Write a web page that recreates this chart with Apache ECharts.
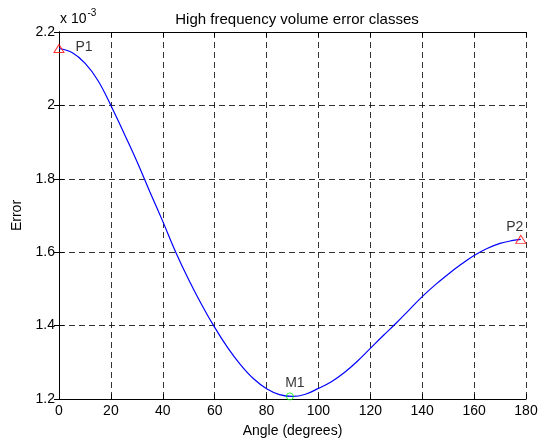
<!DOCTYPE html>
<html>
<head>
<meta charset="utf-8">
<script src="https://cdn.jsdelivr.net/npm/echarts@6/dist/echarts.min.js"></script>
<style>
html, body { margin: 0; padding: 0; background: #fff; }
#main { width: 544px; height: 443px; }
</style>
</head>
<body>
<div id="main"></div>
<script>
// values, error in units of 10^-3
var angles = [0, 5, 10, 15, 20, 25, 30, 35, 40, 45, 50, 55, 60, 65, 70, 75, 80, 85, 90,
    95, 100, 105, 110, 115, 120, 125, 130, 135, 140, 145, 150, 155, 160, 165, 170, 175, 178];
var errors = [2.155, 2.144, 2.115, 2.068, 2.0, 1.925, 1.848, 1.765, 1.684, 1.6, 1.525, 1.457, 1.395, 1.34,
    1.293, 1.255, 1.228, 1.212, 1.207, 1.213, 1.229, 1.247, 1.272, 1.303, 1.338, 1.373, 1.407, 1.443,
    1.479, 1.511, 1.54, 1.567, 1.591, 1.61, 1.624, 1.632, 1.635];
var peakNames = ['P1', 'P2'];
var peakAngles = [0, 178];
var peakErrors = [2.155, 1.635];
var minName = 'M1';
var minAngle = 89;
var minError = 1.207;
var xTicks = { min: 0, max: 180, step: 20 };
var yTicks = { min: 1.2, max: 2.2, step: 0.2 };

var chart = echarts.init(document.getElementById('main'));

var curve = [];
for (var i = 0; i < angles.length; i++) {
    curve.push([angles[i], errors[i]]);
}
// label offsets for P1 / P2
var peakOffsets = [[25, -1], [-6, -12]];
var peaks = [];
for (var j = 0; j < peakAngles.length; j++) {
    peaks.push({
        name: peakNames[j],
        value: [peakAngles[j], peakErrors[j]],
        label: { offset: peakOffsets[j] }
    });
}

var font = 'Liberation Sans, Arial, sans-serif';
var fs = 14;
var dashed = { show: true, lineStyle: { color: '#000', type: [6, 4], width: 1, opacity: 0.8 } };

function yLabel(v) {
    return String(+v.toFixed(1));
}

chart.setOption({
    animation: false,
    title: {
        text: 'High frequency volume error classes',
        left: 292,
        textAlign: 'center',
        top: 7,
        textStyle: { fontFamily: font, fontSize: 15, fontWeight: 'normal', color: '#000' }
    },
    graphic: [{
        type: 'text',
        left: 60,
        top: 8,
        style: {
            text: '{a|x 10}{b|-3}',
            rich: {
                a: { fontFamily: font, fontSize: fs, fill: '#000', verticalAlign: 'bottom' },
                b: { fontFamily: font, fontSize: 10, fill: '#000', padding: [0, 0, 8, 1] }
            }
        }
    }],
    grid: { left: 59, right: 18, top: 32, bottom: 43 },
    xAxis: [{
        type: 'value',
        min: xTicks.min, max: xTicks.max, interval: xTicks.step,
        name: 'Angle (degrees)',
        nameLocation: 'middle',
        nameGap: 25,
        nameTextStyle: { fontFamily: font, fontSize: fs, color: '#000' },
        axisLine: { lineStyle: { color: '#000', width: 1 } },
        axisTick: { inside: true, length: 5, lineStyle: { color: '#000' } },
        axisLabel: { fontFamily: font, fontSize: fs, color: '#000', margin: 5 },
        splitLine: dashed
    }, {
        type: 'value', position: 'top',
        min: xTicks.min, max: xTicks.max, interval: xTicks.step,
        axisLine: { show: true, lineStyle: { color: '#000', width: 1 } },
        axisTick: { inside: true, length: 5, lineStyle: { color: '#000' } },
        axisLabel: { show: false },
        splitLine: { show: false }
    }],
    yAxis: [{
        type: 'value',
        min: yTicks.min, max: yTicks.max, interval: yTicks.step,
        name: 'Error',
        nameLocation: 'middle',
        nameGap: 31,
        nameTextStyle: { fontFamily: font, fontSize: fs, color: '#000' },
        axisLine: { show: true, lineStyle: { color: '#000', width: 1 } },
        axisTick: { show: true, inside: true, length: 5, lineStyle: { color: '#000' } },
        axisLabel: { fontFamily: font, fontSize: fs, color: '#000', margin: 4, formatter: yLabel },
        splitLine: dashed
    }, {
        type: 'value', position: 'right',
        min: yTicks.min, max: yTicks.max, interval: yTicks.step,
        axisLine: { show: true, lineStyle: { color: '#000', width: 1 } },
        axisTick: { show: true, inside: true, length: 5, lineStyle: { color: '#000' } },
        axisLabel: { show: false },
        splitLine: { show: false }
    }],
    series: [{
        type: 'line',
        data: curve,
        smooth: 0.4,
        showSymbol: false,
        lineStyle: { color: '#0000ff', width: 1.2 },
        z: 3
    }, {
        type: 'scatter',
        data: peaks,
        symbol: 'triangle',
        symbolSize: [10, 8],
        itemStyle: { color: 'transparent', borderColor: '#ff0000', borderWidth: 1 },
        label: {
            show: true,
            formatter: '{b}',
            fontFamily: font, fontSize: fs, color: '#000',
            position: 'inside'
        },
        z: 4
    }, {
        type: 'scatter',
        data: [{ name: minName, value: [minAngle, minError] }],
        symbol: 'circle',
        symbolSize: 7,
        itemStyle: { color: 'transparent', borderColor: '#00ff00', borderWidth: 1 },
        label: {
            show: true,
            formatter: '{b}',
            fontFamily: font, fontSize: fs, color: '#000',
            position: 'inside',
            offset: [5, -13]
        },
        z: 4
    }]
});
</script>
</body>
</html>
